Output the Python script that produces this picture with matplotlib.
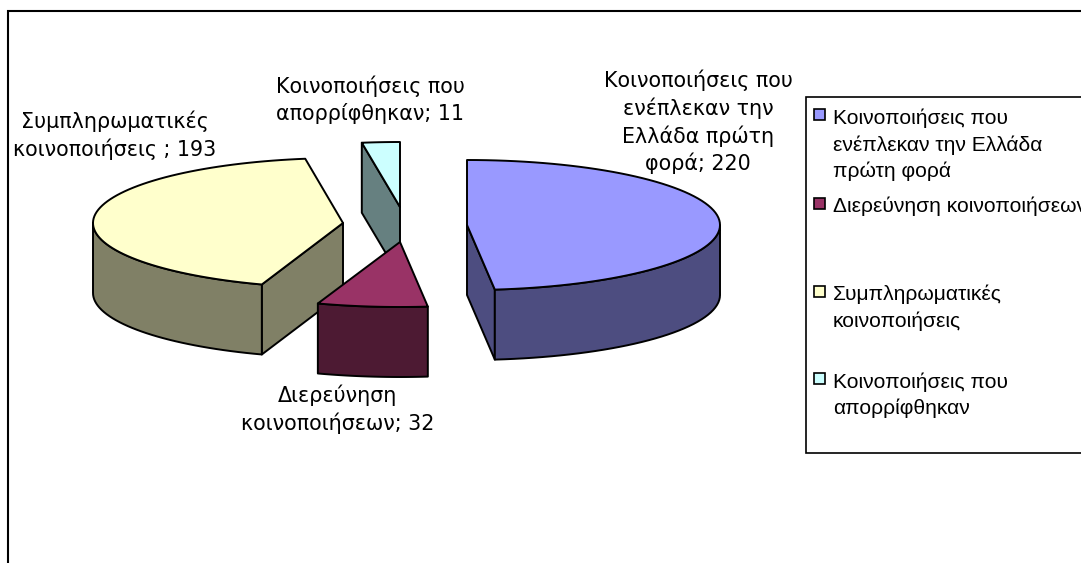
import numpy as np
import matplotlib
matplotlib.use("Agg")
import matplotlib.pyplot as plt
from matplotlib.patches import Polygon, Rectangle

# data
values = [220, 32, 193, 11]
legend_labels = [
    "Κοινοποιήσεις που\nενέπλεκαν την Ελλάδα\nπρώτη φορά",
    "Διερεύνηση κοινοποιήσεων",
    "Συμπληρωματικές\nκοινοποιήσεις",
    "Κοινοποιήσεις που\nαπορρίφθηκαν",
]
data_labels = [
    "Κοινοποιήσεις που\nενέπλεκαν την\nΕλλάδα πρώτη\nφορά; 220",
    "Διερεύνηση\nκοινοποιήσεων; 32",
    "Συμπληρωματικές\nκοινοποιήσεις ; 193",
    "Κοινοποιήσεις που\nαπορρίφθηκαν; 11",
]
top_colors = ["#9999FF", "#993366", "#FFFFCC", "#CCFFFF"]
side_colors = ["#4D4D80", "#4D1A33", "#808066", "#668080"]

# where each exploded slice sits, and how the pie is squashed
centers = [(467, 225), (400, 242), (343, 223), (400, 207)]
radii_x = [253, 253, 250, 253]
label_pos = [(698, 122), (338, 409), (115, 135), (370, 100)]
ry, depth = 65, 70
# which straight cut of a slice faces the viewer (rim index), None if neither
cut_face = [-1, None, 0, 0]

fig = plt.figure(figsize=(10.81, 5.63), dpi=100)
ax = fig.add_axes([0, 0, 1, 1])
ax.set_xlim(0, 1081)
ax.set_ylim(563, 0)
ax.axis("off")

# outer chart frame, runs off the bottom and right
ax.plot([8, 8, 1081], [563, 11, 11], color="black", lw=1.5, solid_joinstyle="miter")

angles = np.cumsum([0] + values) / sum(values) * 2 * np.pi


def draw_slice(i, z):
    t = np.linspace(angles[i], angles[i + 1], 80)
    c = np.array(centers[i], dtype=float)
    pts = np.column_stack([c[0] + radii_x[i] * np.sin(t), c[1] - ry * np.cos(t)])
    down = np.array([0, depth])
    style = dict(facecolor=side_colors[i], edgecolor="black", lw=1.4, zorder=z, joinstyle="round")
    if cut_face[i] is not None:
        end = pts[cut_face[i]]
        ax.add_patch(Polygon([c, end, end + down, c + down], **style))
    # outer wall, front half of the rim
    front = pts[pts[:, 1] >= c[1] - 0.5]
    if len(front) > 1:
        ax.add_patch(Polygon(np.vstack([front, (front + down)[::-1]]), **style))
    ax.add_patch(Polygon(np.vstack([c, pts]), facecolor=top_colors[i], edgecolor="black",
                         lw=1.4, zorder=z + 0.5, joinstyle="round"))


# back to front
for z, i in enumerate([3, 2, 1, 0]):
    draw_slice(i, z + 1)

for label, (x, y) in zip(data_labels, label_pos):
    ax.text(x, y, label, family="DejaVu Sans", fontsize=14.9, ha="center", va="center",
            linespacing=1.36, color="black", zorder=10)

# legend box, cut by the right edge
ax.add_patch(Rectangle((806, 97), 300, 356, facecolor="white", edgecolor="black", lw=1.2, zorder=11))
legend_y = [115, 204, 292, 379]
legend_text_y = [109, 196, 285, 372]
for i, label in enumerate(legend_labels):
    ax.add_patch(Rectangle((814, legend_y[i] - 6), 11, 11, facecolor=top_colors[i],
                           edgecolor="black", lw=1.2, zorder=12))
    ax.text(833, legend_text_y[i], label, family="Liberation Sans", fontsize=15.1, va="top",
            linespacing=1.42, color="black", zorder=12, clip_on=True)

fig.savefig("out.png", dpi=100)
